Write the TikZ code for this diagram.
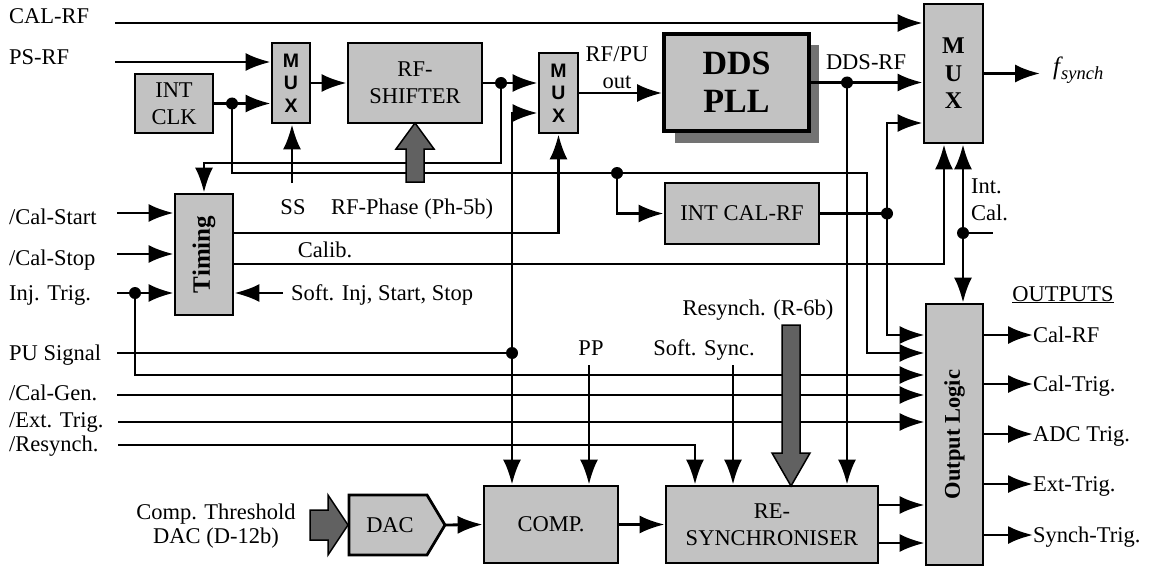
\documentclass[tikz,border=0pt]{standalone}
\usepackage{fontspec}
\setmainfont{Liberation Serif}
\newfontfamily\hsans{Liberation Sans}
\usetikzlibrary{arrows.meta,calc}
\newcommand\lblfont{\fontsize{22.5}{27}\selectfont}
\newcommand\muxfont{\hsans\bfseries\fontsize{19.5}{22.5}\selectfont}
\tikzset{
  wire/.style={line width=2.8pt},
  arr/.style={wire,-{Latex[length=25pt,width=18pt]}},
  both/.style={wire,{Latex[length=25pt,width=18pt]}-{Latex[length=25pt,width=18pt]}},
  box/.style={draw,line width=2.8pt,fill=black!24,inner sep=0pt,align=center,font=\lblfont},
  lbl/.style={inner sep=1pt,font=\lblfont,text height=16pt,text depth=2pt},
  lbltwo/.style={inner sep=1pt,font=\lblfont},
  jdot/.style={circle,fill=black,inner sep=0pt,minimum size=12pt},
  fat/.style={draw,line width=1.5pt,fill=black!62},
}
\begin{document}
\begin{tikzpicture}[x=1pt,y=-1pt]
\useasboundingbox (0,0) rectangle (1150,567);
\fill[white] (0,0) rectangle (1150,567);

% ---------- blocks ----------
\node[box,minimum width=78pt,minimum height=59pt] (intclk) at (174,103.5) {INT\\CLK};
\node[box,minimum width=38pt,minimum height=80pt,font=\muxfont] (mux1) at (291,83) {M\\U\\X};
\node[box,minimum width=134pt,minimum height=80pt] (shifter) at (415,83) {RF-\\SHIFTER};
\node[box,minimum width=39pt,minimum height=80pt,font=\muxfont] (mux2) at (558.5,93) {M\\U\\X};
\fill[black!55] (675,45) rectangle (819,143);
\node[box,line width=3.8pt,minimum width=145pt,minimum height=97pt,font=\bfseries\fontsize{34}{38}\selectfont] (dds) at (736.5,82.5) {DDS\\PLL};
\node[box,minimum width=59pt,minimum height=139pt,font=\bfseries\fontsize{24}{27.5}\selectfont] (mux3) at (953.5,73.5) {M\\U\\X};
\node[box,minimum width=154pt,minimum height=61pt] (intcal) at (742,213.5) {INT CAL-RF};
\node[box,minimum width=58pt,minimum height=121pt] (timing) at (204,254.5) {\rotatebox{90}{\bfseries\fontsize{25}{27}\selectfont Timing}};
\node[box,minimum width=57pt,minimum height=261pt] (outlogic) at (954.5,434.5) {\rotatebox{90}{\bfseries Output Logic}};
\node[box,minimum width=134pt,minimum height=77pt] (comp) at (551,524.5) {COMP.};
\node[box,minimum width=212pt,minimum height=77pt] (resync) at (772,524.5) {RE-\\SYNCHRONISER};
\draw[line width=2.8pt,fill=black!24] (349,495) -- (427,495) -- (445,525) -- (427,555) -- (349,555) -- cycle;
\node[lbl] (dac) at (390,525) {DAC};
\coordinate (dacout) at (445,525);

% ---------- labels ----------
\node[lbl,anchor=west] (lcalrf) at (8,17) {CAL-RF};
\node[lbl,anchor=west] (lpsrf) at (8,58) {PS-RF};
\node[lbl,anchor=west] (lcstart) at (8,217) {/Cal-Start};
\node[lbl,anchor=west] (lcstop) at (8,258) {/Cal-Stop};
\node[lbl,anchor=west] (linj) at (8,293) {Inj. Trig.};
\node[lbl,anchor=west] (lpu) at (8,353) {PU Signal};
\node[lbl,anchor=west] (lcalgen) at (8,393) {/Cal-Gen.};
\node[lbl,anchor=west] (lext) at (8,420) {/Ext. Trig.};
\node[lbl,anchor=west] (lres) at (8,444) {/Resynch.};
\node[lbl] (lss) at (293,207) {SS};
\node[lbl,anchor=west] (lphase) at (330,207) {RF-Phase (Ph-5b)};
\node[lbl] (lcalib) at (325,250) {Calib.};
\node[lbl,anchor=west] (lsoftinj) at (290,293) {Soft. Inj, Start, Stop};
\node[lbltwo,align=center] (lrfpu) at (617,68) {RF/PU\\out};
\node[lbl] (lddsrf) at (866,63) {DDS-RF};
\node[anchor=base west,inner sep=0pt,font=\itshape\fontsize{25}{27}\selectfont] (lfsync) at (1053,75) {f\kern1pt\raisebox{-5pt}{\fontsize{18.5}{20}\selectfont synch}};
\node[lbltwo,align=left,anchor=west] (lintcal) at (970,200) {Int.\\Cal.};
\node[lbl] (lpp) at (591,348) {PP};
\node[lbl] (lssync) at (704,348) {Soft. Sync.};
\node[lbl] (lresr) at (758,308) {Resynch. (R-6b)};
\node[lbltwo,align=center,font=\fontsize{22.5}{24.5}\selectfont] (lthr) at (216,526) {Comp. Threshold\\DAC (D-12b)};
\node[lbl] (loutputs) at (1063,294) {\underline{OUTPUTS}};

% ---------- coordinates ----------
\coordinate (calrfin) at (115,23);
\coordinate (psin) at (115,62);
\coordinate (clkdot) at (232,103.5);
\coordinate (clkcorner) at (867,173);
\coordinate (caldot) at (617,173);
\coordinate (icdot) at (887,213.5);
\coordinate (ssin) at (292,183);
\coordinate (shdot) at (501,83);
\coordinate (shcorner) at (501,163);
\coordinate (pu) at (117,353);
\coordinate (pudot) at (512,353);
\coordinate (ddsdot) at (847,82.5);
\coordinate (fout) at (1040,73.5);
\coordinate (icdottwo) at (963,233);
\coordinate (icend) at (993,233);
\coordinate (cstart) at (117,213);
\coordinate (cstop) at (117,254);
\coordinate (inj) at (117,293);
\coordinate (injdot) at (135,293);
\coordinate (softinj) at (283,293);
\coordinate (calgen) at (117,395);
\coordinate (exttrig) at (118,422);
\coordinate (resin) at (118,445);
\coordinate (pp) at (589,365);
\coordinate (ssync) at (733,365);

% ---------- wires ----------
\draw[arr] (calrfin) -- (calrfin -| mux3.west);
\draw[arr] (psin) -- (psin -| mux1.west);
\draw[arr] (intclk.east) -- (intclk.east -| mux1.west);
\draw[arr] (clkdot) |- (clkcorner) |- (pu -| outlogic.west);
\draw[arr] (caldot) |- (intcal.west);
\draw[wire] (intcal.east) -- (icdot);
\draw[arr] (icdot) |- (mux3.west |- 0,123);
\draw[arr] (icdot) |- (outlogic.west |- 0,335);
\draw[arr] (ssin) -- (ssin |- mux1.south);
\draw[arr] (mux1.east) -- (shifter.west);
\draw[arr] (shifter.east) -- (shifter.east -| mux2.west);
\draw[arr] (shdot) -- (shcorner) -| (timing.north);
\draw[wire] (pu) -- (pudot);
\draw[both] (mux2.west |- 0,113) -| (pudot |- comp.north);
\draw[arr] (timing.east |- 0,233) -| (mux2.south);
\draw[arr] (timing.east |- 0,264) -| (mux3.south -| 944,0);
\draw[arr] (mux2.east) -- (mux2.east -| dds.west);
\draw[arr] (dds.east) -- (dds.east -| mux3.west);
\draw[arr] (ddsdot) -- (ddsdot |- resync.north);
\draw[arr] (mux3.east) -- (fout);
\draw[both] (mux3.south -| icdottwo) -- (outlogic.north -| icdottwo);
\draw[wire] (icdottwo) -- (icend);
\draw[arr] (cstart) -- (cstart -| timing.west);
\draw[arr] (cstop) -- (cstop -| timing.west);
\draw[arr] (inj) -- (inj -| timing.west);
\draw[arr] (injdot) |- (outlogic.west |- 0,375);
\draw[arr] (softinj) -- (softinj -| timing.east);
\draw[arr] (calgen) -- (calgen -| outlogic.west);
\draw[arr] (exttrig) -- (exttrig -| outlogic.west);
\draw[arr] (resin) -| (resync.north -| 695,0);
\draw[arr] (pp) -- (pp |- comp.north);
\draw[arr] (ssync) -- (ssync |- resync.north);
\draw[arr] (dacout) -- (comp.west);
\draw[arr] (comp.east) -- (resync.west);
\draw[arr] (resync.east |- 0,505) -- (outlogic.west |- 0,505);
\draw[arr] (resync.east |- 0,543) -- (outlogic.west |- 0,543);

% outputs
\foreach \yy/\nm/\tx in {335/oa/Cal-RF,384/ob/Cal-Trig.,434/oc/ADC Trig.,484/od/Ext-Trig.,535/oe/Synch-Trig.}{
  \coordinate (\nm) at (1033,\yy);
  \draw[arr] (outlogic.east |- \nm) -- (\nm);
  \node[lbl,anchor=west,inner sep=0pt] (\nm txt) at (\nm) {\tx};
}

% ---------- fat arrows ----------
\draw[fat] (415,123) -- (434,149) -- (424,149) -- (424,182) -- (406,182) -- (406,149) -- (396,149) -- cycle;
\draw[fat] (782,325) -- (800,325) -- (800,453) -- (810,453) -- (791,486) -- (772,453) -- (782,453) -- cycle;
\draw[fat] (310,510) -- (328,510) -- (328,495) -- (348,525) -- (328,555) -- (328,540) -- (310,540) -- cycle;

% ---------- junction dots ----------
\node[jdot] (d1) at (clkdot) {};
\node[jdot] (d2) at (caldot) {};
\node[jdot] (d3) at (icdot) {};
\node[jdot] (d4) at (shdot) {};
\node[jdot] (d5) at (pudot) {};
\node[jdot] (d6) at (ddsdot) {};
\node[jdot] (d7) at (icdottwo) {};
\node[jdot] (d8) at (injdot) {};
\end{tikzpicture}
\end{document}
